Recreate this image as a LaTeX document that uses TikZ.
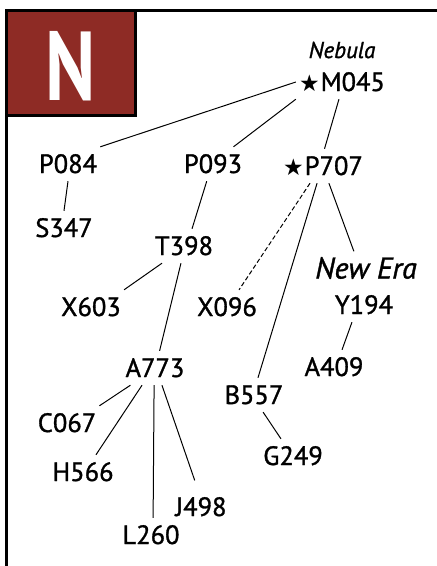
\documentclass[tikz,border=0pt]{standalone}
\usepackage{fontspec}
\setmainfont{PT Sans}
\newfontfamily\tagfont{PT Sans}[FakeBold=1.2]
\newfontfamily\starfont{DejaVu Sans}
\usepackage{xcolor}
\definecolor{nebred}{RGB}{142,43,37}
\usepackage{tikz}

\newcommand{\tagsize}{\tagfont\fontsize{26.5}{30}\selectfont}
\newcommand{\starmark}{{\starfont\fontsize{23}{23}\selectfont ★}\kern1pt}

\begin{document}
\begin{tikzpicture}[x=1pt,y=-1pt,
    tag/.style={font=\tagsize,inner xsep=3pt,inner ysep=8pt,text height=18pt,text depth=0pt},
    link/.style={line width=1pt},
    maybe/.style={link,dash pattern=on 4.5pt off 2.5pt}]
  \useasboundingbox (0,0) rectangle (437,566);
  % frame and letter badge
  \draw[line width=3pt] (6.5,566) -- (6.5,10.5) -- (437,10.5);
  \node[draw,line width=3pt,fill=nebred,minimum width=129pt,minimum height=105pt,inner sep=0pt] (badge) at (71,63) {};
  \node[text=white,inner sep=0pt,font=\bfseries\fontsize{98}{98}\selectfont] (letter) at (71,66.5) {\scalebox{0.78}[1]{N}};

  % names
  \node[inner sep=0pt,font=\tagfont\itshape\fontsize{23}{26}\selectfont] (nebula) at (342,50) {Nebula};
  \node[tag] (m045) at (342,82) {\starmark M045};
  \node[tag] (p084) at (68,164) {P084};
  \node[tag] (s347) at (64,228) {S347};
  \node[tag] (p093) at (213,164) {P093};
  \node[tag] (p707) at (323,166) {\starmark P707};
  \node[tag] (t398) at (184,246) {T398};
  \node[tag] (x603) at (91,307) {X603};
  \node[tag] (x096) at (227,307) {X096};
  \node[inner xsep=3pt,inner ysep=6pt,text height=21pt,text depth=0pt,font=\tagfont\itshape\fontsize{30}{34}\selectfont] (newera) at (366,268) {New Era};
  \node[tag] (y194) at (364,305) {Y194};
  \node[tag] (a409) at (334,367) {A409};
  \node[tag] (b557) at (254,395) {B557};
  \node[tag] (g249) at (293,456) {G249};
  \node[tag] (a773) at (155,368) {A773};
  \node[tag] (c067) at (67,423) {C067};
  \node[tag] (h566) at (83,472) {H566};
  \node[tag] (j498) at (201,507) {J498};
  \node[tag] (l260) at (151,535) {L260};

  % lines
  \draw[link] (m045.west) -- (p084.north east);
  \draw[link] (m045.south west) -- (p093.40);
  \draw[link] (m045.-100) -- (p707.85);
  \draw[link] (p084.south) -- (s347.north);
  \draw[link] (p093.-110) -- (t398.65);
  \draw[link] (t398.218) -- (x603.north east);
  \draw[link] (t398.-100) -- (a773.75);
  \draw[maybe] (p707.-127) -- (x096.55);
  \draw[link] (p707.-109) -- (b557.77);
  \draw[link] (p707.-71) -- (newera.126);
  \draw[link] (y194.-125) -- (a409.65);
  \draw[link] (b557.-62) -- (g249.125);
  \draw[link] (a773.215) -- (c067.north east);
  \draw[link] (a773.-127) -- (h566.53);
  \draw[link] (a773.-93) -- (l260.83);
  \draw[link,shorten >=10pt] (a773.-68) -- (j498.100);
\end{tikzpicture}
\end{document}
